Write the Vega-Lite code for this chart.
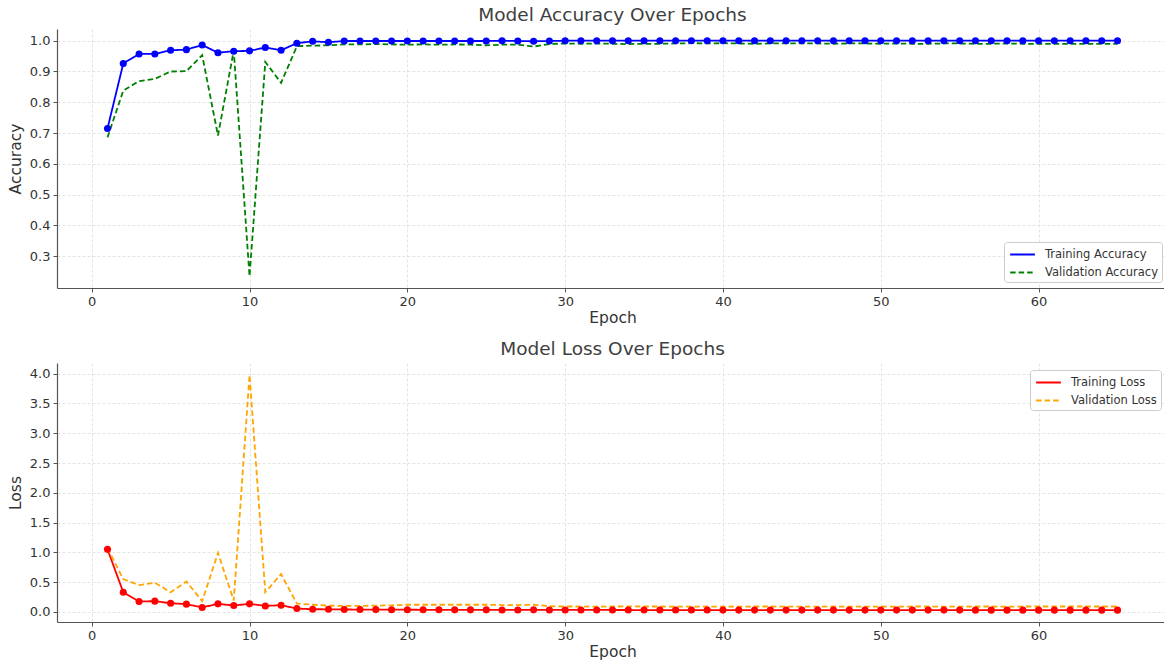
{
  "$schema": "https://vega.github.io/schema/vega-lite/v6.json",
  "padding": {"left": 8, "top": 5, "right": 0, "bottom": 0},
  "background": "white",
  "data": {"values": [
    {"epoch": 1, "Training Accuracy": 0.715, "Validation Accuracy": 0.686, "Training Loss": 1.05, "Validation Loss": 1.07},
    {"epoch": 2, "Training Accuracy": 0.926, "Validation Accuracy": 0.838, "Training Loss": 0.33, "Validation Loss": 0.55},
    {"epoch": 3, "Training Accuracy": 0.957, "Validation Accuracy": 0.869, "Training Loss": 0.175, "Validation Loss": 0.45},
    {"epoch": 4, "Training Accuracy": 0.957, "Validation Accuracy": 0.876, "Training Loss": 0.18, "Validation Loss": 0.49},
    {"epoch": 5, "Training Accuracy": 0.969, "Validation Accuracy": 0.900, "Training Loss": 0.145, "Validation Loss": 0.33},
    {"epoch": 6, "Training Accuracy": 0.971, "Validation Accuracy": 0.901, "Training Loss": 0.13, "Validation Loss": 0.51},
    {"epoch": 7, "Training Accuracy": 0.986, "Validation Accuracy": 0.953, "Training Loss": 0.075, "Validation Loss": 0.18},
    {"epoch": 8, "Training Accuracy": 0.961, "Validation Accuracy": 0.692, "Training Loss": 0.135, "Validation Loss": 0.99},
    {"epoch": 9, "Training Accuracy": 0.966, "Validation Accuracy": 0.968, "Training Loss": 0.107, "Validation Loss": 0.19},
    {"epoch": 10, "Training Accuracy": 0.967, "Validation Accuracy": 0.235, "Training Loss": 0.135, "Validation Loss": 3.98},
    {"epoch": 11, "Training Accuracy": 0.978, "Validation Accuracy": 0.931, "Training Loss": 0.10, "Validation Loss": 0.33},
    {"epoch": 12, "Training Accuracy": 0.969, "Validation Accuracy": 0.863, "Training Loss": 0.112, "Validation Loss": 0.635},
    {"epoch": 13, "Training Accuracy": 0.992, "Validation Accuracy": 0.982, "Training Loss": 0.056, "Validation Loss": 0.14},
    {"epoch": 14, "Training Accuracy": 0.998, "Validation Accuracy": 0.984, "Training Loss": 0.045, "Validation Loss": 0.12},
    {"epoch": 15, "Training Accuracy": 0.995, "Validation Accuracy": 0.985, "Training Loss": 0.043, "Validation Loss": 0.105},
    {"epoch": 16, "Training Accuracy": 0.999, "Validation Accuracy": 0.988, "Training Loss": 0.04, "Validation Loss": 0.10},
    {"epoch": 17, "Training Accuracy": 0.999, "Validation Accuracy": 0.988, "Training Loss": 0.039, "Validation Loss": 0.10},
    {"epoch": 18, "Training Accuracy": 0.999, "Validation Accuracy": 0.989, "Training Loss": 0.038, "Validation Loss": 0.105},
    {"epoch": 19, "Training Accuracy": 0.999, "Validation Accuracy": 0.988, "Training Loss": 0.037, "Validation Loss": 0.11},
    {"epoch": 20, "Training Accuracy": 0.999, "Validation Accuracy": 0.987, "Training Loss": 0.036, "Validation Loss": 0.12},
    {"epoch": 21, "Training Accuracy": 0.999, "Validation Accuracy": 0.988, "Training Loss": 0.035, "Validation Loss": 0.12},
    {"epoch": 22, "Training Accuracy": 0.999, "Validation Accuracy": 0.987, "Training Loss": 0.035, "Validation Loss": 0.12},
    {"epoch": 23, "Training Accuracy": 0.999, "Validation Accuracy": 0.988, "Training Loss": 0.034, "Validation Loss": 0.12},
    {"epoch": 24, "Training Accuracy": 0.999, "Validation Accuracy": 0.987, "Training Loss": 0.034, "Validation Loss": 0.12},
    {"epoch": 25, "Training Accuracy": 0.999, "Validation Accuracy": 0.985, "Training Loss": 0.034, "Validation Loss": 0.12},
    {"epoch": 26, "Training Accuracy": 1.0, "Validation Accuracy": 0.987, "Training Loss": 0.033, "Validation Loss": 0.115},
    {"epoch": 27, "Training Accuracy": 0.999, "Validation Accuracy": 0.987, "Training Loss": 0.033, "Validation Loss": 0.115},
    {"epoch": 28, "Training Accuracy": 0.998, "Validation Accuracy": 0.981, "Training Loss": 0.034, "Validation Loss": 0.12},
    {"epoch": 29, "Training Accuracy": 0.999, "Validation Accuracy": 0.989, "Training Loss": 0.033, "Validation Loss": 0.095},
    {"epoch": 30, "Training Accuracy": 1.0, "Validation Accuracy": 0.991, "Training Loss": 0.032, "Validation Loss": 0.09},
    {"epoch": 31, "Training Accuracy": 1.0, "Validation Accuracy": 0.990, "Training Loss": 0.032, "Validation Loss": 0.09},
    {"epoch": 32, "Training Accuracy": 1.0, "Validation Accuracy": 0.991, "Training Loss": 0.032, "Validation Loss": 0.088},
    {"epoch": 33, "Training Accuracy": 1.0, "Validation Accuracy": 0.990, "Training Loss": 0.032, "Validation Loss": 0.09},
    {"epoch": 34, "Training Accuracy": 1.0, "Validation Accuracy": 0.989, "Training Loss": 0.031, "Validation Loss": 0.092},
    {"epoch": 35, "Training Accuracy": 1.0, "Validation Accuracy": 0.990, "Training Loss": 0.031, "Validation Loss": 0.09},
    {"epoch": 36, "Training Accuracy": 1.0, "Validation Accuracy": 0.990, "Training Loss": 0.031, "Validation Loss": 0.09},
    {"epoch": 37, "Training Accuracy": 1.0, "Validation Accuracy": 0.991, "Training Loss": 0.031, "Validation Loss": 0.088},
    {"epoch": 38, "Training Accuracy": 1.0, "Validation Accuracy": 0.992, "Training Loss": 0.031, "Validation Loss": 0.088},
    {"epoch": 39, "Training Accuracy": 1.0, "Validation Accuracy": 0.991, "Training Loss": 0.031, "Validation Loss": 0.09},
    {"epoch": 40, "Training Accuracy": 1.0, "Validation Accuracy": 0.992, "Training Loss": 0.030, "Validation Loss": 0.087},
    {"epoch": 41, "Training Accuracy": 1.0, "Validation Accuracy": 0.991, "Training Loss": 0.030, "Validation Loss": 0.088},
    {"epoch": 42, "Training Accuracy": 1.0, "Validation Accuracy": 0.990, "Training Loss": 0.030, "Validation Loss": 0.09},
    {"epoch": 43, "Training Accuracy": 1.0, "Validation Accuracy": 0.991, "Training Loss": 0.030, "Validation Loss": 0.09},
    {"epoch": 44, "Training Accuracy": 1.0, "Validation Accuracy": 0.991, "Training Loss": 0.030, "Validation Loss": 0.088},
    {"epoch": 45, "Training Accuracy": 1.0, "Validation Accuracy": 0.991, "Training Loss": 0.030, "Validation Loss": 0.088},
    {"epoch": 46, "Training Accuracy": 1.0, "Validation Accuracy": 0.991, "Training Loss": 0.030, "Validation Loss": 0.089},
    {"epoch": 47, "Training Accuracy": 1.0, "Validation Accuracy": 0.990, "Training Loss": 0.030, "Validation Loss": 0.09},
    {"epoch": 48, "Training Accuracy": 1.0, "Validation Accuracy": 0.991, "Training Loss": 0.030, "Validation Loss": 0.088},
    {"epoch": 49, "Training Accuracy": 1.0, "Validation Accuracy": 0.991, "Training Loss": 0.030, "Validation Loss": 0.088},
    {"epoch": 50, "Training Accuracy": 1.0, "Validation Accuracy": 0.990, "Training Loss": 0.030, "Validation Loss": 0.09},
    {"epoch": 51, "Training Accuracy": 1.0, "Validation Accuracy": 0.991, "Training Loss": 0.030, "Validation Loss": 0.088},
    {"epoch": 52, "Training Accuracy": 1.0, "Validation Accuracy": 0.990, "Training Loss": 0.030, "Validation Loss": 0.09},
    {"epoch": 53, "Training Accuracy": 1.0, "Validation Accuracy": 0.990, "Training Loss": 0.030, "Validation Loss": 0.09},
    {"epoch": 54, "Training Accuracy": 1.0, "Validation Accuracy": 0.991, "Training Loss": 0.030, "Validation Loss": 0.088},
    {"epoch": 55, "Training Accuracy": 1.0, "Validation Accuracy": 0.991, "Training Loss": 0.030, "Validation Loss": 0.088},
    {"epoch": 56, "Training Accuracy": 1.0, "Validation Accuracy": 0.990, "Training Loss": 0.029, "Validation Loss": 0.09},
    {"epoch": 57, "Training Accuracy": 1.0, "Validation Accuracy": 0.990, "Training Loss": 0.029, "Validation Loss": 0.09},
    {"epoch": 58, "Training Accuracy": 1.0, "Validation Accuracy": 0.991, "Training Loss": 0.029, "Validation Loss": 0.088},
    {"epoch": 59, "Training Accuracy": 1.0, "Validation Accuracy": 0.990, "Training Loss": 0.029, "Validation Loss": 0.09},
    {"epoch": 60, "Training Accuracy": 1.0, "Validation Accuracy": 0.990, "Training Loss": 0.029, "Validation Loss": 0.09},
    {"epoch": 61, "Training Accuracy": 1.0, "Validation Accuracy": 0.990, "Training Loss": 0.029, "Validation Loss": 0.09},
    {"epoch": 62, "Training Accuracy": 1.0, "Validation Accuracy": 0.990, "Training Loss": 0.029, "Validation Loss": 0.09},
    {"epoch": 63, "Training Accuracy": 1.0, "Validation Accuracy": 0.990, "Training Loss": 0.029, "Validation Loss": 0.09},
    {"epoch": 64, "Training Accuracy": 1.0, "Validation Accuracy": 0.990, "Training Loss": 0.029, "Validation Loss": 0.09},
    {"epoch": 65, "Training Accuracy": 1.0, "Validation Accuracy": 0.990, "Training Loss": 0.029, "Validation Loss": 0.09}
  ]},
  "spacing": 13,
  "vconcat": [
    {
      "width": 1111,
      "height": 259,
      "title": "Model Accuracy Over Epochs",
      "transform": [{"fold": ["Training Accuracy", "Validation Accuracy"], "as": ["series", "value"]}],
      "encoding": {
        "x": {"field": "epoch", "type": "quantitative", "title": "Epoch",
              "scale": {"domain": [-2.2, 68.2], "nice": false, "zero": false},
              "axis": {"values": [0, 10, 20, 30, 40, 50, 60]}},
        "y": {"field": "value", "type": "quantitative", "title": "Accuracy",
              "scale": {"domain": [0.197, 1.038], "nice": false, "zero": false},
              "axis": {"values": [0.3, 0.4, 0.5, 0.6, 0.7, 0.8, 0.9, 1.0], "format": ".1f"}}
      },
      "layer": [
        {
          "mark": {"type": "line", "strokeWidth": 1.8, "clip": true},
          "encoding": {
            "color": {"field": "series", "type": "nominal",
                      "scale": {"domain": ["Training Accuracy", "Validation Accuracy"], "range": ["#0000ff", "#008000"]},
                      "legend": {"orient": "bottom-right", "title": null, "offset": 6}},
            "strokeDash": {"field": "series", "type": "nominal",
                      "scale": {"domain": ["Training Accuracy", "Validation Accuracy"], "range": [[1, 0], [5.5, 3]]},
                      "legend": {"orient": "bottom-right", "title": null, "offset": 6}}
          }
        },
        {
          "transform": [{"filter": "datum.series === 'Training Accuracy'"}],
          "mark": {"type": "point", "filled": true, "size": 50, "opacity": 1, "color": "#0000ff"},
          "encoding": {}
        }
      ]
    },
    {
      "width": 1111,
      "height": 259,
      "title": "Model Loss Over Epochs",
      "transform": [{"fold": ["Training Loss", "Validation Loss"], "as": ["series", "value"]}],
      "encoding": {
        "x": {"field": "epoch", "type": "quantitative", "title": "Epoch",
              "scale": {"domain": [-2.2, 68.2], "nice": false, "zero": false},
              "axis": {"values": [0, 10, 20, 30, 40, 50, 60]}},
        "y": {"field": "value", "type": "quantitative", "title": "Loss",
              "scale": {"domain": [-0.17, 4.18], "nice": false, "zero": false},
              "axis": {"values": [0, 0.5, 1, 1.5, 2, 2.5, 3, 3.5, 4], "format": ".1f"}}
      },
      "layer": [
        {
          "mark": {"type": "line", "strokeWidth": 1.8, "clip": true},
          "encoding": {
            "color": {"field": "series", "type": "nominal",
                      "scale": {"domain": ["Training Loss", "Validation Loss"], "range": ["#ff0000", "#ffa500"]},
                      "legend": {"orient": "top-right", "title": null, "offset": 7}},
            "strokeDash": {"field": "series", "type": "nominal",
                      "scale": {"domain": ["Training Loss", "Validation Loss"], "range": [[1, 0], [5.5, 3]]},
                      "legend": {"orient": "top-right", "title": null, "offset": 7}}
          }
        },
        {
          "transform": [{"filter": "datum.series === 'Training Loss'"}],
          "mark": {"type": "point", "filled": true, "size": 50, "opacity": 1, "color": "#ff0000"},
          "encoding": {}
        }
      ]
    }
  ],
  "resolve": {"scale": {"color": "independent", "strokeDash": "independent"}},
  "config": {
    "font": "DejaVu Sans",
    "view": {"stroke": null},
    "title": {"fontSize": 18.5, "fontWeight": "normal", "color": "#404040", "offset": 5, "font": "DejaVu Sans"},
    "axis": {
      "labelFont": "DejaVu Sans", "titleFont": "DejaVu Sans",
      "labelFontSize": 13, "titleFontSize": 15.5, "titleFontWeight": "normal",
      "labelColor": "#333333", "titleColor": "#333333",
      "domainColor": "#555555", "domainWidth": 1.2,
      "tickColor": "#555555", "tickSize": 4,
      "gridColor": "#dddddd", "gridDash": [3, 2], "gridWidth": 0.8,
      "labelPadding": 3
    },
    "axisY": {"titlePadding": 6},
    "axisX": {"titlePadding": 2},
    "legend": {
      "labelFont": "DejaVu Sans", "labelFontSize": 11.5, "labelColor": "#333333",
      "symbolType": "M-0.9,0H2.6", "symbolStrokeWidth": 2, "symbolSize": 200,
      "labelOffset": 20, "padding": 4, "rowPadding": 4,
      "fillColor": "white", "strokeColor": "#cccccc", "cornerRadius": 3
    }
  }
}
